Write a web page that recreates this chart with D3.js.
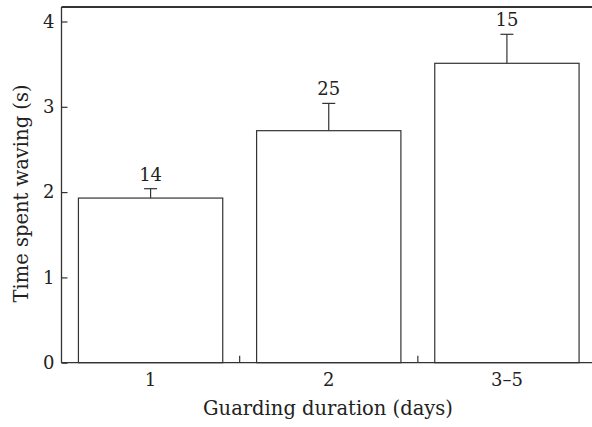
<!DOCTYPE html>
<html><head><meta charset="utf-8">
<script src="https://cdn.jsdelivr.net/npm/d3@7"></script>
<style>body{margin:0;background:#fff}svg{display:block}text{font-family:"DejaVu Serif",serif;fill:#222}</style>
</head><body>
<svg id="c" width="592" height="427"></svg>
<script>
const categories = ["1", "2", "3–5"];
const means = [1.93, 2.72, 3.51];
const errTops = [2.04, 3.04, 3.85];
const sampleSizes = ["14", "25", "15"];
const yTicks = [0, 1, 2, 3, 4];

(function () {
const svg = d3.select("#c");
const FONT = "DejaVu Serif";
const FS = 18, TFS = 19.5;
const mLeft = 61.5, mRight = 596, mTop = 7, mBottom = 362.7;
const x = d3.scaleBand().domain(categories).range([mLeft, mRight]).paddingInner(0.19).paddingOuter(0.095);
const y = d3.scaleLinear().domain([0, 4.17]).range([mBottom, mTop]);
const stroke = "#333";

// top frame line
svg.append("line").attr("x1", mLeft).attr("x2", 592).attr("y1", y(4.17)).attr("y2", y(4.17))
  .attr("stroke", stroke).attr("stroke-width", 1.8);

// bars
svg.selectAll("rect.bar").data(categories).join("rect")
  .attr("x", d => x(d)).attr("width", x.bandwidth())
  .attr("y", (d, i) => y(means[i])).attr("height", (d, i) => y(0) - y(means[i]))
  .attr("fill", "#fff").attr("stroke", stroke).attr("stroke-width", 1.2);

// error bars
const cap = 6.5;
categories.forEach((c, i) => {
  const cx = x(c) + x.bandwidth() / 2;
  svg.append("line").attr("x1", cx).attr("x2", cx).attr("y1", y(means[i])).attr("y2", y(errTops[i]))
    .attr("stroke", stroke).attr("stroke-width", 1.2);
  svg.append("line").attr("x1", cx - cap).attr("x2", cx + cap).attr("y1", y(errTops[i])).attr("y2", y(errTops[i]))
    .attr("stroke", stroke).attr("stroke-width", 1.2);
  svg.append("text").attr("x", cx).attr("y", y(errTops[i]) - 8).attr("text-anchor", "middle")
    .attr("font-size", FS).text(sampleSizes[i]);
});

// y axis (ticks inward)
const yAxis = svg.append("g").attr("transform", `translate(${mLeft},0)`)
  .call(d3.axisLeft(y).tickValues(yTicks).tickSize(-6).tickPadding(7).tickFormat(d3.format("d")));
yAxis.select(".domain").attr("stroke", stroke).attr("stroke-width", 1.3).attr("d", `M0,${mBottom}V${mTop}`);
yAxis.selectAll(".tick line").attr("stroke", stroke).attr("stroke-width", 1.2);
yAxis.selectAll(".tick text").attr("font-size", FS).attr("font-family", FONT).attr("fill", "#222");

// x axis
const xAxis = svg.append("g").attr("transform", `translate(0,${mBottom})`)
  .call(d3.axisBottom(x).tickSize(0).tickPadding(11));
xAxis.select(".domain").attr("stroke", stroke).attr("stroke-width", 1.3).attr("d", `M${mLeft},0H592`);
xAxis.selectAll(".tick text").attr("font-size", FS).attr("font-family", FONT).attr("fill", "#222");
// divider ticks between categories
const dividers = categories.slice(1).map(c => x(c) - x.step() * x.paddingInner() / 2);
svg.selectAll("line.div").data(dividers).join("line")
  .attr("x1", d => d).attr("x2", d => d).attr("y1", mBottom - 7).attr("y2", mBottom)
  .attr("stroke", stroke).attr("stroke-width", 1.2);

// axis titles
svg.append("text").attr("x", 328).attr("y", 415).attr("text-anchor", "middle").attr("font-size", TFS)
  .text("Guarding duration (days)");
svg.append("text").attr("transform", `translate(28,193.5) rotate(-90)`)
  .attr("text-anchor", "middle").attr("font-size", TFS).text("Time spent waving (s)");
})();
</script>
</body></html>
